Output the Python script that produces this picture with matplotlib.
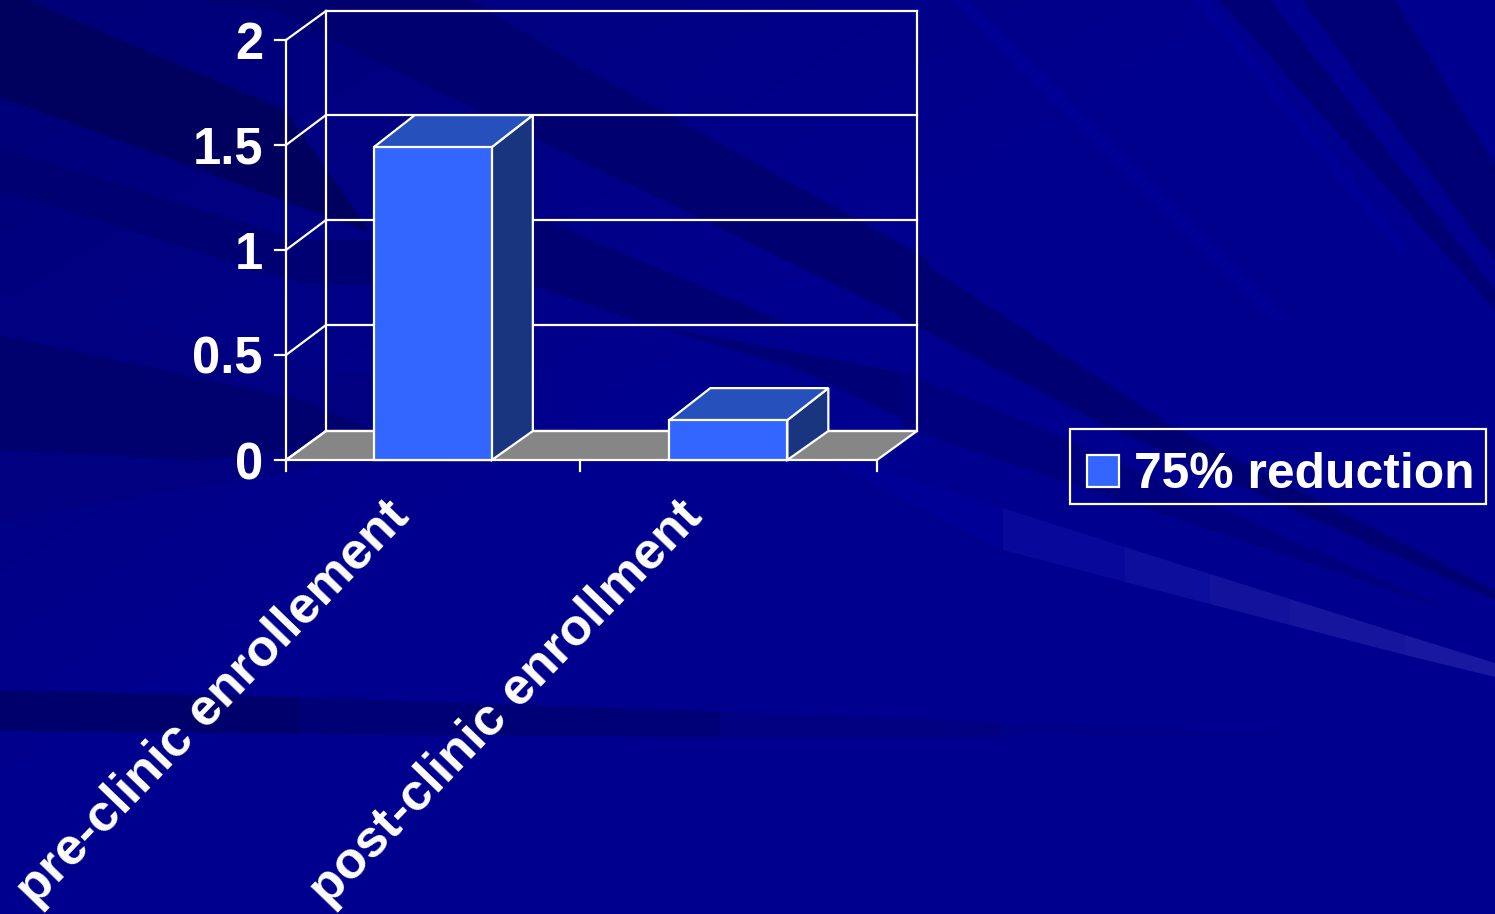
import numpy as np
import matplotlib
matplotlib.use("Agg")
import matplotlib.pyplot as plt
from matplotlib.patches import Polygon, Rectangle
from matplotlib.colors import to_rgb

categories = ["pre-clinic enrollement", "post-clinic enrollment"]
values = [1.49, 0.19]
y_ticks = [0, 0.5, 1, 1.5, 2]
y_labels = ["0", "0.5", "1", "1.5", "2"]
legend_label = "75% reduction"

W, H = 1495, 914
fig = plt.figure(figsize=(W / 100, H / 100), dpi=100)
plt.rcParams["font.family"] = ["Liberation Sans", "DejaVu Sans"]

bg = fig.add_axes([0, 0, 1, 1])
bg.add_patch(Rectangle((0, 0), W, H, fc="#00008e", ec="none", zorder=0))

# Soft darkening toward the top left corner of the slide
yy, xx = np.mgrid[0:H, 0:W]
shade = np.zeros((H, W, 4))
shade[..., :3] = to_rgb("#000060")
shade[..., 3] = 0.5 * np.clip(1 - (xx + 1.6 * yy) / 1250, 0, 1)
bg.imshow(shade, extent=(0, W, H, 0), zorder=0.5, aspect="auto", interpolation="bilinear")
bg.set_xlim(0, W)
bg.set_ylim(H, 0)
bg.axis("off")

# Dark and light streaks fanning across the navy field
streaks = [
    ([200, 470, 570, 930, 915, 483, 270], [0, 0, 60, 260, 323, 113, 10], "#000070"),
    ([0, 27, 285, 370, 0], [0, 0, 110, 232, 97], "#00005e"),
    ([0, 300, 374, 533, 787, 640, 530, 374, 300, 0],
     [148, 240, 240, 215, 323, 322, 285, 285, 283, 190], "#000072"),
    ([0, 300, 530, 300, 0], [292, 365, 400, 470, 520], "#000080"),
    ([0, 300, 400, 200, 0], [335, 400, 440, 460, 450], "#00006e"),
    ([650, 917, 917, 800], [325, 375, 425, 370], "#000076"),
    ([900, 1175, 1495, 1495, 1110, 900], [248, 428, 590, 600, 428, 318], "#000072"),
    ([900, 1045, 1450, 939, 900], [370, 430, 610, 440, 425], "#00007e"),
    ([1220, 1270, 1495, 1495], [0, 0, 290, 310], "#000074"),
    ([1302, 1395, 1495, 1495], [0, 0, 165, 260], "#000074"),
    ([1195, 1208, 1410, 1400], [0, 0, 250, 255], "#000096"),
    ([950, 970, 1290, 1270], [0, 0, 320, 320], "#000092"),
    ([800, 1003, 1003], [445, 508, 550], "#000096"),
    ([0, 300, 300, 0], [690, 697, 734, 731], "#00006c"),
    ([300, 720, 720, 300], [697, 712, 737, 734], "#000076"),
    ([720, 1000, 1000, 720], [712, 722, 737, 737], "#000080"),
    ([1000, 1300, 1000], [722, 736, 737], "#000088"),
]
for xs, ys, c in streaks:
    bg.add_patch(Polygon(np.column_stack([xs, ys]), fc=c, ec="none", zorder=1))

# Pale ray that brightens in steps toward the right edge
ray_x = [1003, 1125, 1210, 1290, 1405, 1495]
ray_top = [508, 547, 574, 599, 635, 663]
ray_bot = [550, 582, 604, 625, 655, 677]
ray_col = ["#08089a", "#0e0e9c", "#12129c", "#15159e", "#1818a0"]
for i, c in enumerate(ray_col):
    pts = [(ray_x[i], ray_top[i]), (ray_x[i + 1], ray_top[i + 1]),
           (ray_x[i + 1], ray_bot[i + 1]), (ray_x[i], ray_bot[i])]
    bg.add_patch(Polygon(pts, fc=c, ec="none", zorder=2))

# Pixel geometry of the oblique 3-D box
x0, x1 = 286, 877        # front floor edge
y_zero, y_top = 460, 40  # front axis: value 0 and value 2
dx, dy = 40, -29         # depth offset of the walls
bar_dx, bar_top_dy = 41, -32
white = "#ffffff"
lw = 1.6
scale = (y_zero - y_top) / y_ticks[-1]


def yv(v):
    return y_zero - v * scale


def poly(pts, fc, z, ec=white):
    bg.add_patch(Polygon(pts, closed=True, fc=fc, ec=ec, lw=lw, zorder=z, joinstyle="miter"))


# Grey floor
poly([(x0, y_zero), (x1, y_zero), (x1 + dx, y_zero + dy), (x0 + dx, y_zero + dy)], "#868686", 3)

# Back wall gridlines, side wall ticks and value labels
for t, label in zip(y_ticks, y_labels):
    y = yv(t)
    back = y + dy - (1 if 0 < t < 2 else 0)
    bg.plot([x0, x0 + dx], [y, back], color=white, lw=lw, zorder=3)
    bg.plot([x0 + dx, x1 + dx], [back, back], color=white, lw=lw, zorder=3)
    bg.plot([x0 - 11, x0], [y, y], color=white, lw=lw, zorder=3)
    bg.text(263, y, label, color=white, fontsize=36.5, fontweight="bold",
            ha="right", va="center_baseline", zorder=6)
bg.plot([x0, x0], [y_zero + 11, y_top], color=white, lw=lw, zorder=3)
bg.plot([x0 + dx, x0 + dx], [y_zero + dy, y_top + dy], color=white, lw=lw, zorder=3)
bg.plot([x1 + dx, x1 + dx], [y_zero + dy, y_top + dy], color=white, lw=lw, zorder=3)

# Category ticks along the front floor edge
n = len(categories)
step = (x1 - x0) / n
for i in range(1, n + 1):
    x = x0 + i * step - (1.5 if i < n else 0)
    bg.plot([x, x], [y_zero, y_zero + 11], color=white, lw=lw, zorder=3)

# Bars
bar_w = 118
for i, v in enumerate(values):
    cx = x0 + (i + 0.5) * step - 0.9
    left, right = cx - bar_w / 2, cx + bar_w / 2
    top = yv(v)
    poly([(right, y_zero), (right + bar_dx, y_zero + dy), (right + bar_dx, top + bar_top_dy), (right, top)],
         "#1a3580", 4)
    poly([(left, top), (right, top), (right + bar_dx, top + bar_top_dy), (left + bar_dx, top + bar_top_dy)],
         "#2650bc", 4)
    poly([(left, y_zero), (right, y_zero), (right, top), (left, top)], "#3366ff", 5)

# Rotated category labels, anchored at their upper right end
label_anchor_x = [384, 677]
for name, lx in zip(categories, label_anchor_x):
    bg.text(lx, 492, name, color=white, fontsize=37.5, fontweight="bold", rotation=46,
            rotation_mode="anchor", ha="right", va="top", zorder=6, clip_on=True)

# Legend box
bg.add_patch(Rectangle((1070, 429), 416, 75, fc="none", ec=white, lw=lw, zorder=5.5))
bg.add_patch(Rectangle((1087, 455), 32, 32, fc="#3366ff", ec=white, lw=lw, zorder=6))
bg.text(1134, 470, legend_label, color=white, fontsize=35.8, fontweight="bold",
        ha="left", va="center_baseline", zorder=6)

fig.savefig("out.png", dpi=100)
